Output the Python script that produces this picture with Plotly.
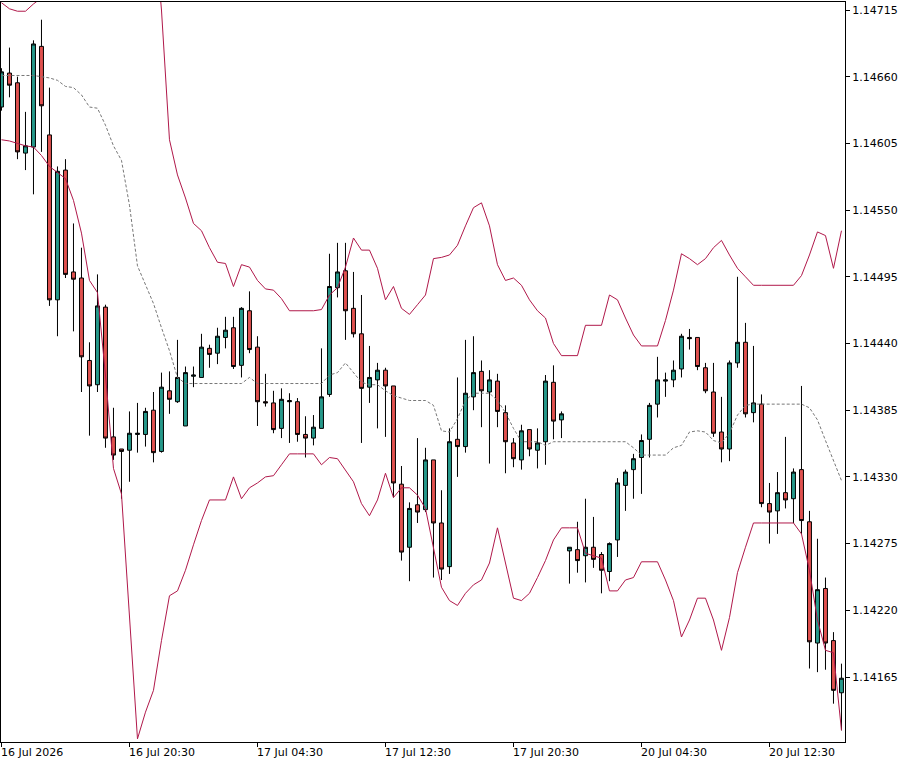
import plotly.graph_objects as go

opens = [1.14635,1.14663,1.14655,1.14597,1.14602,1.14685,1.14612,1.14476,1.14583,1.14499,
1.14494,1.14426,1.14406,1.14470,1.14363,1.14353,1.14352,1.14365,1.14365,1.14385,
1.14351,1.14401,1.14392,1.14372,1.14413,1.14412,1.14436,1.14432,1.14445,1.14453,
1.14422,1.14467,1.14437,1.14392,1.14391,1.14370,1.14393,1.14392,1.14365,1.14362,
1.14370,1.14398,1.14486,1.14500,1.14469,1.14448,1.14404,1.14410,1.14418,1.14405,
1.14324,1.14272,1.14307,1.14303,1.14344,1.14292,1.14256,1.14361,1.14355,1.14396,
1.14417,1.14400,1.14409,1.14383,1.14358,1.14344,1.14369,1.14352,1.14359,1.14408,
1.14377,1.14269,1.14270,1.14265,1.14272,1.14266,1.14252,1.14278,1.14323,1.14336,
1.14346,1.14361,1.14390,1.14409,1.14410,1.14419,1.14445,1.14445,1.14420,1.14400,
1.14367,1.14353,1.14424,1.14441,1.14383,1.14390,1.14308,1.14302,1.14317,1.14312,
1.14336,1.14293,1.14193,1.14238,1.14195,1.14152]
highs = [1.14667,1.14684,1.14660,1.14631,1.14690,1.14707,1.14651,1.14586,1.14592,1.14539,
1.14519,1.14441,1.14497,1.14472,1.14387,1.14353,1.14384,1.14391,1.14387,1.14400,
1.14416,1.14417,1.14443,1.14421,1.14421,1.14448,1.14439,1.14453,1.14462,1.14462,
1.14470,1.14483,1.14446,1.14415,1.14401,1.14403,1.14399,1.14395,1.14380,1.14381,
1.14436,1.14514,1.14523,1.14523,1.14499,1.14480,1.14438,1.14424,1.14420,1.14405,
1.14339,1.14309,1.14362,1.14354,1.14344,1.14319,1.14370,1.14412,1.14443,1.14446,
1.14426,1.14418,1.14415,1.14389,1.14362,1.14373,1.14369,1.14370,1.14414,1.14422,
1.14384,1.14272,1.14293,1.14312,1.14297,1.14268,1.14276,1.14329,1.14336,1.14349,
1.14365,1.14391,1.14429,1.14416,1.14426,1.14448,1.14452,1.14445,1.14424,1.14424,
1.14396,1.14426,1.14495,1.14457,1.14438,1.14398,1.14325,1.14334,1.14363,1.14337,
1.14405,1.14302,1.14279,1.14247,1.14202,1.14176]
lows = [1.14632,1.14643,1.14592,1.14583,1.14563,1.14598,1.14471,1.14446,1.14494,1.14450,
1.14400,1.14364,1.14400,1.14354,1.14344,1.14312,1.14326,1.14350,1.14355,1.14342,
1.14350,1.14382,1.14391,1.14372,1.14404,1.14412,1.14420,1.14423,1.14436,1.14419,
1.14412,1.14432,1.14372,1.14388,1.14366,1.14362,1.14358,1.14359,1.14346,1.14356,
1.14370,1.14396,1.14478,1.14443,1.14445,1.14358,1.14391,1.14370,1.14363,1.14313,
1.14261,1.14244,1.14292,1.14301,1.14247,1.14245,1.14250,1.14330,1.14350,1.14385,
1.14371,1.14341,1.14371,1.14333,1.14338,1.14336,1.14347,1.14337,1.14340,1.14361,
1.14362,1.14242,1.14251,1.14243,1.14255,1.14234,1.14244,1.14264,1.14302,1.14312,
1.14316,1.14346,1.14379,1.14396,1.14404,1.14412,1.14435,1.14418,1.14399,1.14363,
1.14342,1.14343,1.14420,1.14379,1.14375,1.14305,1.14275,1.14283,1.14304,1.14292,
1.14283,1.14172,1.14169,1.14171,1.14143,1.14121]
closes = [1.14664,1.14653,1.14598,1.14603,1.14687,1.14636,1.14476,1.14582,1.14497,1.14493,
1.14429,1.14405,1.14471,1.14362,1.14348,1.14351,1.14366,1.14366,1.14384,1.14350,
1.14404,1.14394,1.14412,1.14416,1.14414,1.14437,1.14431,1.14446,1.14451,1.14421,
1.14469,1.14435,1.14392,1.14391,1.14369,1.14394,1.14392,1.14365,1.14362,1.14371,
1.14396,1.14487,1.14499,1.14467,1.14448,1.14403,1.14412,1.14418,1.14405,1.14325,
1.14268,1.14304,1.14301,1.14344,1.14292,1.14254,1.14359,1.14355,1.14399,1.14416,
1.14401,1.14410,1.14384,1.14359,1.14345,1.14368,1.14353,1.14358,1.14409,1.14376,
1.14382,1.14272,1.14261,1.14272,1.14262,1.14253,1.14275,1.14325,1.14334,1.14345,
1.14360,1.14389,1.14410,1.14410,1.14418,1.14446,1.14444,1.14421,1.14401,1.14366,
1.14353,1.14424,1.14441,1.14382,1.14391,1.14308,1.14301,1.14317,1.14311,1.14334,
1.14294,1.14194,1.14237,1.14193,1.14154,1.14164]

upper_band = [1.14721,1.14716,1.14714,1.14714,1.14720,1.14725,1.14732,1.14733,1.14728,1.14744,
1.14759,1.14778,1.14786,1.14826,1.14869,1.14866,1.14895,1.14894,1.14840,1.14792,
1.14715,1.14608,1.14579,1.14560,1.14539,1.14533,1.14519,1.14507,1.14506,1.14487,
1.14505,1.14503,1.14492,1.14485,1.14484,1.14477,1.14467,1.14467,1.14467,1.14467,
1.14468,1.14480,1.14486,1.14503,1.14527,1.14517,1.14517,1.14502,1.14476,1.14487,
1.14469,1.14464,1.14472,1.14480,1.14510,1.14511,1.14513,1.14521,1.14537,1.14552,
1.14556,1.14537,1.14505,1.14492,1.14494,1.14488,1.14476,1.14467,1.14461,1.14440,
1.14430,1.14430,1.14430,1.14455,1.14455,1.14455,1.14480,1.14476,1.14461,1.14447,
1.14438,1.14438,1.14438,1.14459,1.14484,1.14514,1.14510,1.14505,1.14510,1.14519,
1.14525,1.14513,1.14502,1.14495,1.14488,1.14488,1.14488,1.14488,1.14488,1.14488,
1.14496,1.14513,1.14532,1.14529,1.14502,1.14533]
middle_band = [1.14661,1.14661,1.14661,1.14661,1.14661,1.14660,1.14659,1.14657,1.14652,1.14651,
1.14645,1.14635,1.14634,1.14620,1.14603,1.14591,1.14554,1.14504,1.14488,1.14473,
1.14453,1.14434,1.14412,1.14407,1.14407,1.14407,1.14407,1.14407,1.14407,1.14407,
1.14407,1.14412,1.14407,1.14407,1.14407,1.14407,1.14407,1.14407,1.14407,1.14407,
1.14407,1.14414,1.14416,1.14424,1.14416,1.14408,1.14406,1.14406,1.14401,1.14397,
1.14395,1.14393,1.14393,1.14393,1.14389,1.14368,1.14367,1.14378,1.14393,1.14399,
1.14399,1.14399,1.14393,1.14383,1.14370,1.14359,1.14359,1.14359,1.14356,1.14359,
1.14359,1.14359,1.14359,1.14359,1.14359,1.14359,1.14359,1.14359,1.14359,1.14354,
1.14348,1.14348,1.14348,1.14348,1.14354,1.14356,1.14367,1.14368,1.14367,1.14360,
1.14358,1.14366,1.14381,1.14389,1.14390,1.14390,1.14390,1.14390,1.14390,1.14390,
1.14390,1.14387,1.14377,1.14360,1.14344,1.14327]
lower_band = [1.14608,1.14607,1.14605,1.14603,1.14602,1.14595,1.14586,1.14581,1.14576,1.14558,
1.14531,1.14492,1.14482,1.14414,1.14337,1.14316,1.14213,1.14114,1.14136,1.14154,
1.14195,1.14232,1.14236,1.14253,1.14274,1.14294,1.14311,1.14311,1.14311,1.14330,
1.14312,1.14321,1.14325,1.14330,1.14331,1.14340,1.14349,1.14349,1.14349,1.14349,
1.14340,1.14346,1.14345,1.14335,1.14326,1.14308,1.14298,1.14311,1.14333,1.14313,
1.14321,1.14321,1.14315,1.14304,1.14272,1.14239,1.14228,1.14224,1.14234,1.14241,
1.14245,1.14259,1.14288,1.14259,1.14230,1.14228,1.14234,1.14247,1.14261,1.14278,
1.14288,1.14288,1.14288,1.14267,1.14265,1.14263,1.14236,1.14236,1.14245,1.14247,
1.14260,1.14260,1.14260,1.14245,1.14228,1.14198,1.14212,1.14230,1.14230,1.14212,
1.14187,1.14214,1.14251,1.14272,1.14292,1.14292,1.14292,1.14292,1.14292,1.14292,
1.14283,1.14253,1.14212,1.14187,1.14185,1.14121]

tick_positions = [0, 16, 32, 48, 64, 80, 96]
tick_labels = ["16 Jul 2026", "16 Jul 20:30", "17 Jul 04:30", "17 Jul 12:30",
               "17 Jul 20:30", "20 Jul 04:30", "20 Jul 12:30"]
y_ticks = [1.14165, 1.14220, 1.14275, 1.14330, 1.14385, 1.14440, 1.14495,
           1.14550, 1.14605, 1.14660, 1.14715]

idx = list(range(len(opens)))
band_color = "#b0184a"
font = "DejaVu Sans"

fig = go.Figure()
fig.add_trace(go.Scatter(x=idx, y=upper_band, mode="lines",
                         line=dict(color=band_color, width=1), hoverinfo="skip"))
fig.add_trace(go.Scatter(x=idx, y=lower_band, mode="lines",
                         line=dict(color=band_color, width=1), hoverinfo="skip"))
fig.add_trace(go.Scatter(x=idx, y=middle_band, mode="lines",
                         line=dict(color="#777777", width=1, dash="3px,2px"), hoverinfo="skip"))
fig.add_trace(go.Candlestick(
    x=idx, open=opens, high=highs, low=lows, close=closes,
    increasing=dict(line=dict(color="black", width=1), fillcolor="#26998b"),
    decreasing=dict(line=dict(color="black", width=1), fillcolor="#e0514f"),
    whiskerwidth=0, hoverinfo="skip"))

for p, t in zip(tick_positions, tick_labels):
    fig.add_annotation(x=p, y=0, xref="x", yref="paper", yanchor="top", xanchor="left",
                       text=t, showarrow=False, yshift=-2, xshift=-2,
                       font=dict(family=font, size=11, color="black"))

fig.update_layout(
    width=924, height=766,
    margin=dict(l=1, r=79, t=2, b=24),
    paper_bgcolor="white", plot_bgcolor="white",
    showlegend=False,
    font=dict(family=font, size=11, color="black"),
    xaxis=dict(range=[-0.06, 105.44], rangeslider=dict(visible=False),
               tickvals=tick_positions, ticktext=[""] * len(tick_positions),
               ticks="outside", ticklen=4, tickcolor="black",
               showgrid=False, zeroline=False, showline=True, linecolor="black",
               linewidth=1, mirror=True),
    yaxis=dict(range=[1.141114, 1.147216], side="right",
               tickvals=y_ticks, ticktext=[f"{v:.5f}" for v in y_ticks],
               ticks="outside", ticklen=4, tickcolor="black",
               showgrid=False, zeroline=False, showline=True, linecolor="black",
               linewidth=1, mirror=True, tickfont=dict(family=font, size=11)),
)
fig.write_html("out.html", config={"displayModeBar": False},
               post_script="document.body.style.margin='0';")
